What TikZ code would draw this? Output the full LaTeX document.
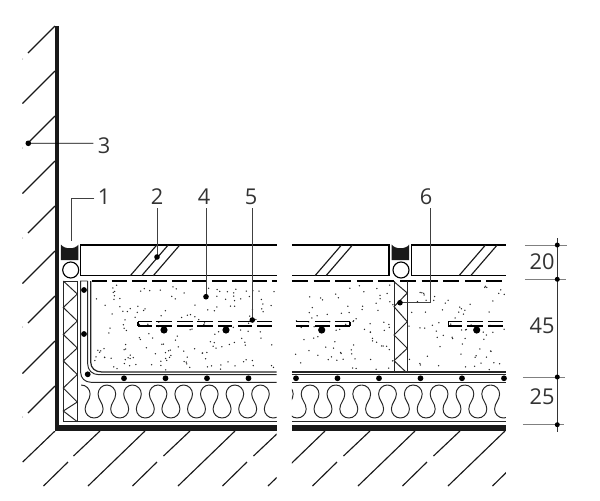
\documentclass[tikz,border=0pt]{standalone}
\usepackage{fontspec}
\setmainfont{Open Sans}
\tikzset{
    thinline/.style={line width=.55pt,black!85},
    tileline/.style={line width=.85pt,black},
    hatch/.style={line width=.65pt,black!90},
    leader/.style={line width=.5pt,black!75},
    dimtick/.style={line width=.55pt,black!50},
    label/.style={font=\fontsize{12.4}{14}\selectfont,text=black!80,inner sep=0pt},
}
\def\floorhatch{
    \draw[hatch] (55,431)--(22.7,462);
    \foreach \x in {145,235,325,415,505}
    \draw[hatch] (\x,431)--++(-57,55);
    \foreach \x in {100,190,280,370,460}
    \draw[hatch] (\x,431)--++(-26.5,25);
    \foreach \x in {68,157,247,337,427,517}
    \draw[hatch] (\x,462)--++(-24.5,24);
}
\def\wavecell#1{
    \draw[thinline] (#1,385) .. controls (#1+5,385) and (#1+9,389) .. (#1+9,394)
    .. controls (#1+9,400) and (#1+4,403) .. (#1+4,409)
    .. controls (#1+4,414) and (#1+8,418) .. (#1+13,418)
    .. controls (#1+18,418) and (#1+22,414) .. (#1+22,409)
    .. controls (#1+22,403) and (#1+17,400) .. (#1+17,394)
    .. controls (#1+17,389) and (#1+21,385) .. (#1+25.7,385);
}
\begin{document}
\begin{tikzpicture}[x=.02cm,y=-.02cm]
    \fill[white] (0,0) rectangle (600,501);
    \useasboundingbox (0,0) rectangle (600,501);
    % wall and floor
    \fill[black!90] (55,26) rectangle (59.5,430.7);
    \fill[black!90] (55,425) rectangle (276.7,430.7);
    \fill[black!90] (292,425) rectangle (506,430.7);
    \foreach \y/\x in {26/28,71/22.5,116/28,161/22.5,206/28,251/22.5,296/28,341/22.5,386/28}
    \draw[hatch] (55,\y)--(\x,\y+55-\x);
    \foreach \y in {59,148,238,327,417}
    \fill[black!50] (22.7,\y) circle (.5);
    \begin{scope}
        \clip (0,431) rectangle (276.7,490);
        \floorhatch
    \end{scope}
    \begin{scope}
        \clip (292,431) rectangle (506,490);
        \floorhatch
    \end{scope}
    % tiles
    \draw[tileline] (276.7,245)--(80.7,245)--(80.7,275.7)--(276.7,275.7);
    \draw[tileline] (292,245)--(389,245)--(389,275.7)--(292,275.7);
    \draw[tileline] (506,245)--(411.7,245)--(411.7,275.7)--(506,275.7);
    \foreach \x in {130.3,141.7,153.3,315,326,459,470.7}
    \draw[hatch] (\x,275.7)--++(26.5,-30.7);
    % joints
    \foreach \x/\cx in {61/70.7,391.7/401}
    {
        \fill[black!90] (\x,244.5) .. controls (\x+3,249.5) and (\x+14.5,249.5) .. (\x+17.5,244.5)
        --(\x+17.5,260)--(\x,260)--cycle;
        \draw[line width=.65pt] (\cx,270) circle (8);
    }
    % top sheet
    \draw[line width=.75pt,dash pattern=on 8.6pt off 2.8pt] (91.7,281)--(276.7,281);
    \draw[line width=.75pt,dash pattern=on 9.1pt off 3.2pt] (292,281)--(506,281);
    % edge strips
    \draw[thinline] (63.3,281)--(63.3,421.7);
    \draw[thinline] (77.3,281)--(77.3,421.7);
    \draw[thinline] (63.3,281)--(77.3,281);
    \draw[thinline] (63.3,281)--(77.3,294)--(63.3,307.5)--(77.3,321)--(63.3,334.5)--(77.3,348)
    --(63.3,361)--(77.3,374.5)--(63.3,388)--(77.3,402)--(63.3,411)--(77.3,421.7);
    \draw[thinline] (394,281)--(394,372);
    \draw[thinline] (407.3,281)--(407.3,372);
    \draw[thinline] (394,281.7)--(407.3,293)--(394,306.7)--(407.3,321.7)--(394,335)--(407.3,348.3)
    --(394,360.7)--(406,372);
    % layers
    \draw[thinline] (87.7,281)--(80.7,281)--(80.7,372.7) .. controls (80.7,378) and (85,382.3) .. (91,382.3)--(276.7,382.3);
    \draw[thinline] (87.7,281)--(87.7,364) .. controls (87.7,370) and (92,374.7) .. (99,374.7)--(276.7,374.7);
    \draw[line width=.7pt,black!85] (90.7,281)--(90.7,362) .. controls (90.7,368) and (95,372) .. (102,372)--(276.7,372);
    \draw[thinline] (292,382.3)--(506,382.3);
    \draw[thinline] (292,374.7)--(506,374.7);
    \draw[line width=.7pt,black!85] (292,372)--(506,372);
    \draw[thinline] (63.3,421.7)--(276.7,421.7);
    \draw[thinline] (292,421.7)--(506,421.7);
    % insulation
    \begin{scope}
        \clip (78,380) rectangle (276.7,421);
        \foreach \t [evaluate=\t as \tx using 106.7+25.6*\t] in {-1,...,6}
        {\wavecell{\tx}}
    \end{scope}
    \begin{scope}
        \clip (292,380) rectangle (506,421);
        \foreach \t [evaluate=\t as \tx using 310+25.8*\t] in {-1,...,7}
        {\wavecell{\tx}}
    \end{scope}
    % layer dots
    \foreach \x/\y in {84/290,84/334,87.7/374.3}
    \fill (\x,\y) circle (2.9);
    \foreach \x in {124,165.5,207,248.5,296,337.5,379,420.5,462,504}
    \fill (\x,378.3) circle (2.9);
    % concrete
    \pgfmathsetseed{17}
    \foreach \i in {1,...,165}
    \fill[black!85] (93+rnd*183,284+rnd*86) circle (.75);
    \foreach \i in {1,...,80}
    \fill[black!85] (293+rnd*100,284+rnd*86) circle (.75);
    \foreach \i in {1,...,70}
    \fill[black!85] (409+rnd*96,284+rnd*86) circle (.75);
    % mesh
    \foreach \a/\b in {138/152,156/172,177/193,197/213,218/232,238/252,257/272,296/309,315/330,335/350,448.3/462,467/483,488/503}
    {
        \draw[line width=.65pt] (\a,321.7)--(\b,321.7);
        \draw[line width=.65pt] (\a,326)--(\b,326);
    }
    \draw[line width=.65pt] (138,321.7)--(138,326);
    \draw[line width=.65pt] (350,321.7)--(350,326);
    \draw[line width=.65pt] (448.3,321.7)--(448.3,326);
    \foreach \x in {164,226,321.7,476.7}
    \fill (\x,330) circle (3.6);
    % labels and leaders
    \node[label] (n3) at (104,146) {3};
    \node[label] (n1) at (104,197) {1};
    \node[label] (n2) at (157,197) {2};
    \node[label] (n4) at (204,197) {4};
    \node[label] (n5) at (251,197) {5};
    \node[label] (n6) at (426,197) {6};
    \coordinate (e3) at (28.3,143.3);
    \coordinate (k1) at (71.7,198);
    \coordinate (e1) at (71.7,241);
    \coordinate (e2) at (157,257);
    \coordinate (e4) at (206,296.7);
    \coordinate (e5) at (252.3,320);
    \coordinate (k6) at (430,302.7);
    \coordinate (e6) at (400,302.7);
    \draw[leader,black] (n3.west)++(-4,-2.7)--(e3);
    \draw[leader] (n1.west)++(-3,1)--(k1)--(e1);
    \draw[leader] (n2.south)++(0,3)--(e2);
    \draw[leader] (n4.south)++(2,3)--(e4);
    \draw[leader] (n5.south)++(1.3,3)--(e5);
    \draw[leader] (n6.south)++(4,3)--(k6)--(e6);
    \foreach \p in {e3,e2,e4,e5,e6}
    \fill (\p) circle (2.8);
    % dimensions
    \draw[dimtick,black!80] (557.3,238)--(557.3,431.7);
    \foreach \y/\a/\b in {245/525/566.7,279.3/525/566,377/523/565,424.7/523/564}
    {
        \draw[dimtick] (\a,\y)--(\b,\y);
        \fill (557.3,\y) circle (2.5);
    }
    \node[label] (d20) at (542,262) {20};
    \node[label] (d45) at (542,326) {45};
    \node[label] (d25) at (542,397) {25};
\end{tikzpicture}
\end{document}
